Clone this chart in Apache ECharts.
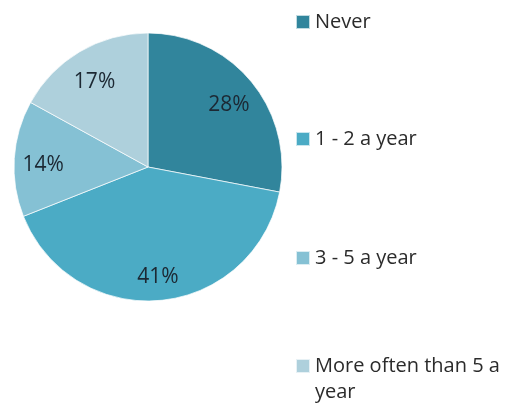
<!DOCTYPE html>
<html>
<head>
<meta charset="utf-8">
<script src="https://cdn.jsdelivr.net/npm/echarts@6/dist/echarts.min.js"></script>
<style>
  html, body { margin: 0; padding: 0; background: #fff; }
  #chart { width: 515px; height: 405px; }
</style>
</head>
<body>
<div id="chart"></div>
<script>
  // categories and shares (percent)
  var categories = ['Never', '1 - 2 a year', '3 - 5 a year', 'More often than 5 a year'];
  var shares = [28, 41, 14, 17];
  var sliceColors = ['#31859c', '#4babc5', '#85c1d4', '#aed0dc'];

  var chart = echarts.init(document.getElementById('chart'));

  var pieData = categories.map(function (name, i) {
    return { name: name, value: shares[i], itemStyle: { color: sliceColors[i] } };
  });

  //每个图例单独定位
  var legendTops = [9, 126, 245, 327];
  var legends = categories.map(function (name, i) {
    var last = i === categories.length - 1;
    return {
      orient: 'vertical',
      left: 295,
      top: legendTops[i],
      padding: 0,
      data: [name],
      icon: 'rect',
      itemWidth: 14,
      itemHeight: 14,
      selectedMode: false,
      // 折行的图例：首行与色块对齐
      formatter: last ? function (n) { return ' \n' + n; } : '{name}',
      textStyle: {
        fontFamily: 'Open Sans',
        fontSize: 20,
        color: '#2b2b2b',
        width: 200,
        overflow: 'break',
        lineHeight: 26
      }
    };
  });

  var option = {
    backgroundColor: '#fff',
    animation: false,
    legend: legends,
    series: [
      {
        type: 'pie',
        center: [148, 167],
        radius: [0, 134],
        startAngle: 90,
        clockwise: true,
        silent: true,
        label: { show: false },
        labelLine: { show: false },
        itemStyle: { borderColor: 'rgba(255,255,255,0.7)', borderWidth: 1 },
        data: pieData
      },
      {
        // label ring only
        type: 'pie',
        center: [148, 167],
        radius: [70, 134],
        startAngle: 90,
        clockwise: true,
        silent: true,
        itemStyle: { color: 'rgba(0,0,0,0)' },
        label: {
          show: true,
          position: 'inside',
          offset: [0, 5],
          fontFamily: 'Open Sans',
          fontSize: 21,
          color: '#1c2833',
          formatter: function (p) { return p.value + '%'; }
        },
        labelLine: { show: false },
        data: categories.map(function (name, i) {
          return { name: name, value: shares[i] };
        })
      }
    ]
  };

  chart.setOption(option);
</script>
</body>
</html>
